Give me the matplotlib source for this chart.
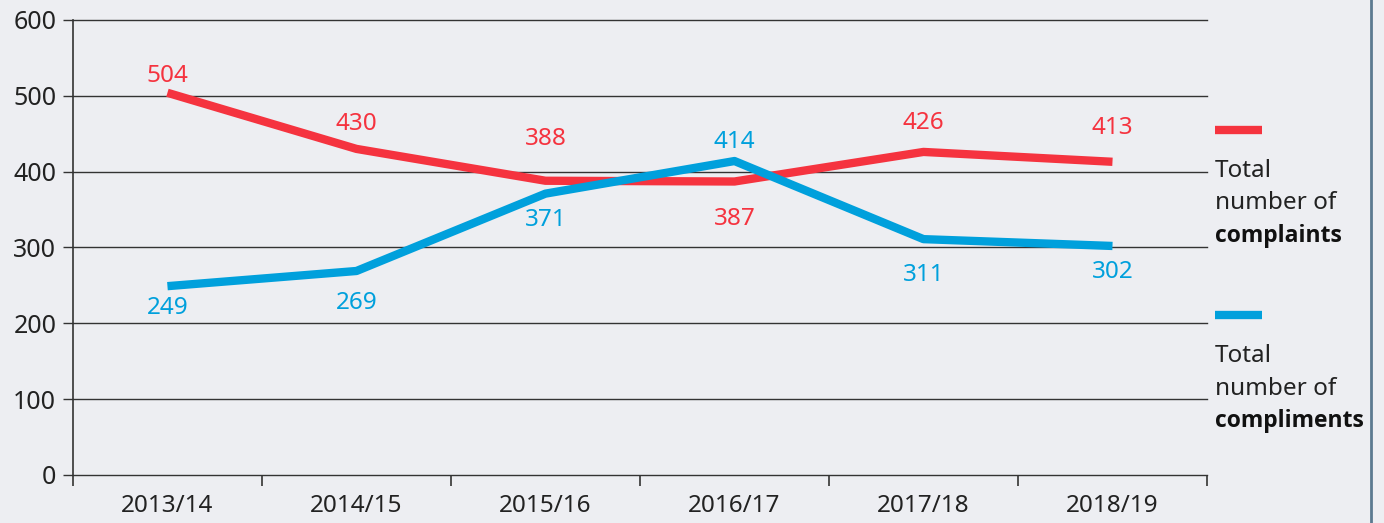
import matplotlib.pyplot as plt
import numpy as np

plt.rcParams['font.family'] = ['Noto Sans', 'DejaVu Sans']

# data
years = ["2013/14", "2014/15", "2015/16", "2016/17", "2017/18", "2018/19"]
complaints = [504, 430, 388, 387, 426, 413]
compliments = [249, 269, 371, 414, 311, 302]

# label offsets in points (above/below the line)
off_complaints = [12, 18, 30, -27, 21, 24]
off_compliments = [-16, -23, -19, 14, -26, -19]

RED = "#F5333F"
BLUE = "#00A0DC"
BG = "#EDEEF2"
INK = "#222222"
FS = 17.5

fig = plt.figure(figsize=(13.84, 5.23), dpi=100, facecolor=BG)
ax = fig.add_axes([0.0527, 0.0918, 0.8194, 0.87])
ax.set_facecolor(BG)

x = np.arange(len(years))
ax.plot(x, complaints, color=RED, lw=6, solid_capstyle="butt", zorder=3)
ax.plot(x, compliments, color=BLUE, lw=6, solid_capstyle="butt", zorder=3)

for xi, v, o in zip(x, complaints, off_complaints):
    ax.annotate(str(v), (xi, v), xytext=(0, o), textcoords="offset points",
                ha="center", va="center", fontsize=FS, color=RED)
for xi, v, o in zip(x, compliments, off_compliments):
    ax.annotate(str(v), (xi, v), xytext=(0, o), textcoords="offset points",
                ha="center", va="center", fontsize=FS, color=BLUE)

ax.set_xlim(-0.5, len(years) - 0.5)
ax.set_ylim(0, 600)
ax.set_yticks(range(0, 601, 100))
for yv in range(0, 601, 100):
    ax.axhline(yv, color="#333333", lw=1.0, zorder=1, clip_on=False)

# category labels centered, ticks on the boundaries
ax.set_xticks(x)
ax.set_xticklabels(years, fontsize=FS, color=INK)
ax.tick_params(axis="x", length=0, pad=14)
ax.set_xticks(np.arange(-0.5, len(years)), minor=True)
ax.tick_params(axis="x", which="minor", length=8, width=1.2, color="#333333", direction="out")
ax.tick_params(axis="y", length=7, width=1.0, color="#333333", labelsize=FS + 0.5, labelcolor=INK, pad=5)

for s in ["top", "right", "bottom"]:
    ax.spines[s].set_visible(False)
ax.spines["left"].set_color("#333333")
ax.spines["left"].set_linewidth(1.2)
ax.spines["left"].set_bounds(0, 600)

# legend on the right
for y0, col, word in [(0.751, RED, "complaints"), (0.397, BLUE, "compliments")]:
    fig.add_artist(plt.Line2D([0.878, 0.912], [y0, y0], color=col, lw=6,
                              solid_capstyle="butt", transform=fig.transFigure))
    fig.text(0.878, y0 - 0.078, "Total", fontsize=FS, color=INK, va="center")
    fig.text(0.878, y0 - 0.140, "number of", fontsize=FS, color=INK, va="center")
    fig.text(0.878, y0 - 0.202, word, fontsize=16.5, color="#111111", va="center",
             fontweight="bold", family=["Open Sans", "DejaVu Sans"])

# right border line
fig.add_artist(plt.Line2D([0.9906, 0.9906], [0, 1], color="#5B7A90", lw=2,
                          transform=fig.transFigure))

fig.savefig("out.png", dpi=100, facecolor=BG)
